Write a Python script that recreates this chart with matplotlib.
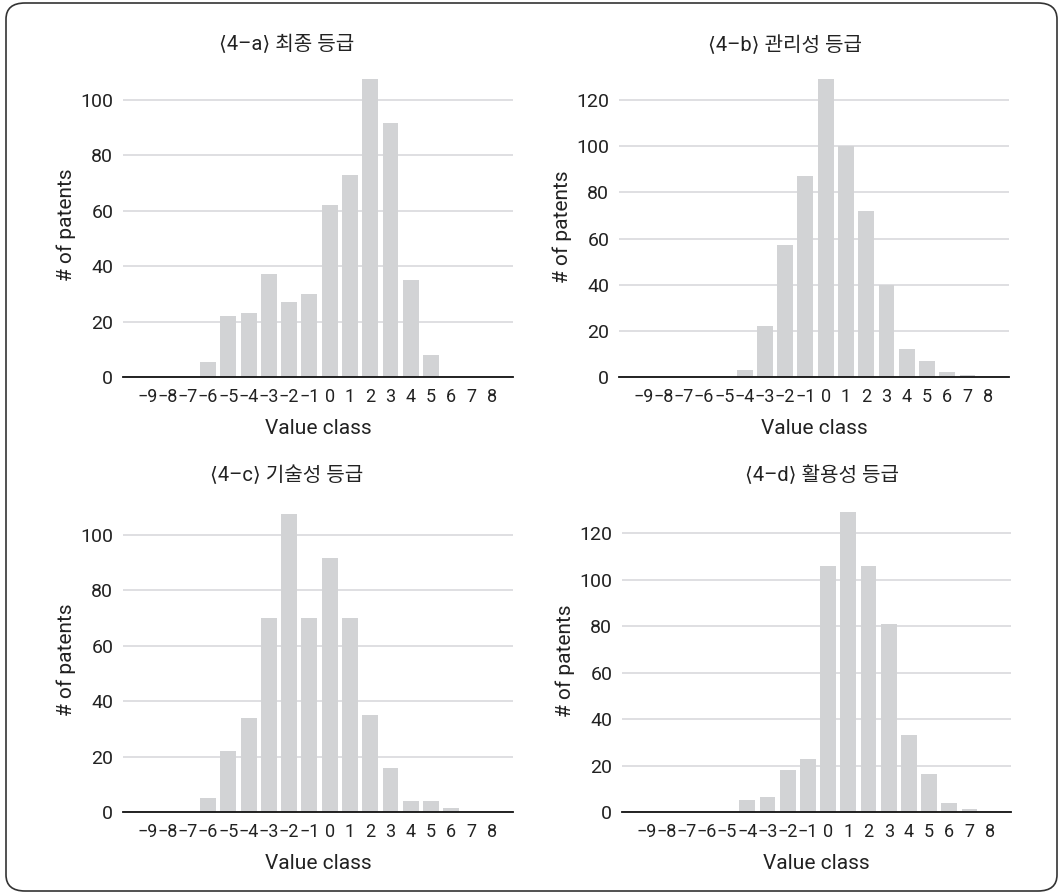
import numpy as np
import matplotlib.pyplot as plt
from matplotlib.patches import FancyBboxPatch

plt.rcParams['font.family'] = ['Roboto', 'Noto Sans CJK KR', 'DejaVu Sans']

#### data ####
classes = list(range(-9, 9))
class_labels = [('\u2212' + str(-c)) if c < 0 else str(c) for c in classes]

final_grade = [0, 0, 0, 5.5, 22, 23, 37, 27, 30, 62, 73, 107.5, 91.5, 35, 8, 0, 0, 0]
mgmt_grade = [0, 0, 0, 0, 0, 3, 22, 57, 87, 129, 100, 72, 40, 12, 7, 2, 1, 0]
tech_grade = [0, 0, 0, 5, 22, 34, 70, 107.5, 70, 91.5, 70, 35, 16, 4, 4, 1.5, 0, 0]
util_grade = [0, 0, 0, 0, 0, 5, 6.5, 18, 23, 106, 129, 106, 81, 33, 16.5, 4, 1.5, 0]

titles = ['\u27e84\u2013a\u27e9 최종 등급', '\u27e84\u2013b\u27e9 관리성 등급',
          '\u27e84\u2013c\u27e9 기술성 등급', '\u27e84\u2013d\u27e9 활용성 등급']
########################################

W, H = 1060, 896
fig = plt.figure(figsize=(W / 100, H / 100), dpi=100)

# rounded frame around the whole figure
frame = FancyBboxPatch((6 / W, 5 / H), 1051 / W, 888 / H,
                       boxstyle='round,pad=0,rounding_size=0.018',
                       transform=fig.transFigure, fill=False,
                       edgecolor='#333333', linewidth=1.2)
fig.patches.append(frame)

bar_color = '#d2d3d5'
grid_color = '#d9d9dd'
text_color = '#222222'

# (left px, right px, baseline px, top px, ymax, yticks, title x px, title y px)
panels = [
    (123, 513, 377, 72, 110, [0, 20, 40, 60, 80, 100], 287, 45, final_grade),
    (619, 1009, 377, 77, 130, [0, 20, 40, 60, 80, 100, 120], 785, 45, mgmt_grade),
    (123, 513, 812, 507, 110, [0, 20, 40, 60, 80, 100], 287, 475, tech_grade),
    (622, 1011, 812, 510, 130, [0, 20, 40, 60, 80, 100, 120], 822, 475, util_grade),
]

for i, (l, r, b, t, ymax, yt, tx, ty, vals) in enumerate(panels):
    ax = fig.add_axes([l / W, (H - b) / H, (r - l) / W, (b - t) / H])
    ax.bar(classes, vals, width=0.78, color=bar_color, zorder=2)
    ax.set_xlim(-10.2, 9.05)
    ax.set_ylim(0, ymax)
    ax.set_yticks(yt)
    ax.set_xticks(classes)
    ax.set_xticklabels(class_labels)
    ax.grid(axis='y', color=grid_color, linewidth=1.2, zorder=0)
    for s in ['top', 'right', 'left']:
        ax.spines[s].set_visible(False)
    ax.spines['bottom'].set_color('#111111')
    ax.spines['bottom'].set_linewidth(1.3)
    ax.spines['bottom'].set_zorder(3)
    ax.tick_params(axis='both', length=0, colors=text_color)
    ax.tick_params(axis='x', pad=8, labelsize=13)
    ax.tick_params(axis='y', pad=7, labelsize=14)
    ax.set_xlabel('Value class', fontsize=15, color=text_color, labelpad=9)
    ax.set_ylabel('# of patents', fontsize=15, color=text_color, labelpad=3)
    fig.text(tx / W, 1 - ty / H, titles[i], ha='center', va='center',
             fontsize=14.5, color=text_color)

plt.savefig('out.png', dpi=100)
